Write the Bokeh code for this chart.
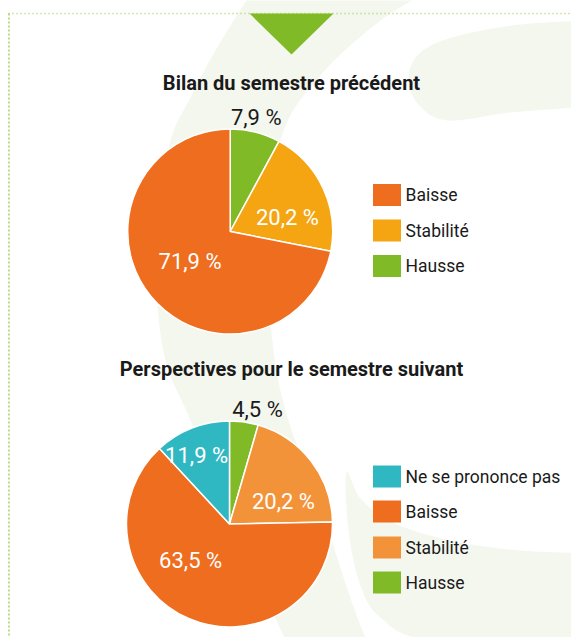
import numpy as np
from bokeh.plotting import figure
from bokeh.models import Range1d, ColumnDataSource
from bokeh.core.properties import value
from bokeh.embed import file_html
from bokeh.resources import INLINE

# ---------------- data ----------------
pie1_title = "Bilan du semestre précédent"
pie1_categories = ["Hausse", "Stabilité", "Baisse"]
pie1_values = [7.9, 20.2, 71.9]
pie1_labels = ["7,9 %", "20,2 %", "71,9 %"]
pie1_colors = ["#80ba27", "#f5a511", "#ee6d1f"]
legend1_order = ["Baisse", "Stabilité", "Hausse"]

pie2_title = "Perspectives pour le semestre suivant"
pie2_categories = ["Hausse", "Stabilité", "Baisse", "Ne se prononce pas"]
pie2_values = [4.5, 20.2, 63.5, 11.9]
pie2_labels = ["4,5 %", "20,2 %", "63,5 %", "11,9 %"]
pie2_colors = ["#80ba27", "#f39339", "#ee6d1f", "#2fb8c2"]
legend2_order = ["Ne se prononce pas", "Baisse", "Stabilité", "Hausse"]

# ---------------- layout / style ----------------
W, H = 571, 637
FONT = "Roboto"
TXT = "#1a1a1a"
BG_SHAPE = "#f4f7ee"


def Y(iy):
    return H - np.asarray(iy, dtype=float)


p = figure(width=W, height=H, x_range=Range1d(0, W), y_range=Range1d(0, H),
           output_backend="svg", toolbar_location=None, min_border=0)
p.axis.visible = False
p.grid.visible = False
p.outline_line_color = None
p.background_fill_color = "white"
p.border_fill_color = "white"


def catmull(pts, n=14):
    pts = np.asarray(pts, dtype=float)
    P = np.vstack([pts[0], pts, pts[-1]])
    out = []
    for i in range(1, len(P) - 2):
        p0, p1, p2, p3 = P[i - 1], P[i], P[i + 1], P[i + 2]
        for t in np.linspace(0, 1, n, endpoint=False):
            t2, t3 = t * t, t * t * t
            out.append(0.5 * ((2 * p1) + (-p0 + p2) * t + (2 * p0 - 5 * p1 + 4 * p2 - p3) * t2
                              + (-p0 + 3 * p1 - 3 * p2 + p3) * t3))
    out.append(P[-2])
    return np.array(out)


# decorative background shapes (image-pixel control points)
band_outer = [(252, -10), (215, 50), (190, 97), (170, 140), (159, 210), (156, 285),
              (165, 360), (190, 420), (230, 520), (290, 650)]
band_inner = [(370, 650), (350, 598), (318, 500), (288, 420), (273, 350), (269, 260),
              (280, 140), (320, 75), (380, 20), (430, -10)]
blob_top = [(590, 20), (520, 24), (455, 36), (420, 52), (408, 77), (418, 104),
            (447, 120), (510, 112), (590, 106)]
blob_bottom = [(600, 553), (520, 550), (450, 540), (392, 522), (360, 498), (346, 472),
               (348, 530), (360, 585), (380, 617), (430, 640), (600, 650)]

for shape in ([band_outer, band_inner], [blob_top], [blob_bottom]):
    pts = np.vstack([catmull(s) for s in shape])
    p.patch(pts[:, 0], Y(pts[:, 1]), fill_color=BG_SHAPE, line_color=None)

# dotted frame and green triangle
p.line([8, W], Y([13, 13]), line_color="#a6d062", line_width=1.5, line_dash="1 3")
p.line([8.5, 8.5], Y([13, H]), line_color="#a6d062", line_width=1.5, line_dash="2 2")
p.patch([249, 333, 291], Y([13, 13, 54]), fill_color="#80ba27", line_color=None)


def draw_pie(cx, cy, R, values, colors, labels, shifts, fracs, lab_colors):
    vals = np.asarray(values, dtype=float)
    cum = np.concatenate([[0], np.cumsum(vals)]) / vals.sum()
    src = ColumnDataSource(dict(start=np.pi / 2 - 2 * np.pi * cum[:-1],
                                end=np.pi / 2 - 2 * np.pi * cum[1:],
                                color=colors))
    p.wedge(x=cx, y=float(Y(cy)), radius=R, start_angle="start", end_angle="end",
            direction="clock", fill_color="color", line_color="white",
            line_width=1.5, source=src)
    mid = (cum[:-1] + cum[1:]) / 2 * 360
    ang = np.radians(mid + np.asarray(shifts))
    d = np.asarray(fracs) * R
    lsrc = ColumnDataSource(dict(x=cx + d * np.sin(ang), y=Y(cy) + d * np.cos(ang),
                                 t=labels, c=lab_colors))
    p.text(x="x", y="y", text="t", text_color="c", source=lsrc,
           text_align="center", text_baseline="middle",
           text_font=value(FONT), text_font_size="22px")


def draw_legend(order, cats, colors, y_centers):
    cmap = dict(zip(cats, colors))
    yc = Y(y_centers)
    p.rect(x=[386.5] * len(order), y=yc, width=28, height=22,
           fill_color=[cmap[c] for c in order], line_color=None)
    p.text(x=[405] * len(order), y=yc, text=order, text_color=TXT,
           text_align="left", text_baseline="middle",
           text_font=value(FONT), text_font_size="17.5px")


def draw_title(t, iy):
    p.text(x=[291], y=[float(Y(iy))], text=[t], text_color=TXT, text_align="center",
           text_baseline="middle", text_font=value(FONT), text_font_size="20px",
           text_font_style="bold")


# ---- chart 1 ----
draw_title(pie1_title, 82)
draw_pie(229.7, 231, 102.5, pie1_values, pie1_colors, pie1_labels,
         shifts=[-1.4, 11.4, 2.5], fracs=[1.145, 0.575, 0.49],
         lab_colors=[TXT, "white", "white"])
draw_legend(legend1_order, pie1_categories, pie1_colors, [194.5, 230, 265.5])

# ---- chart 2 ----
draw_title(pie2_title, 368)
draw_pie(229, 523.5, 103, pie2_values, pie2_colors, pie2_labels,
         shifts=[5.7, 15.2, 24.2, -4.2], fracs=[1.14, 0.566, 0.515, 0.74],
         lab_colors=[TXT, "white", "white", "white"])
draw_legend(legend2_order, pie2_categories, pie2_colors, [476, 511, 547, 582])

open("out.html", "w").write(file_html(p, INLINE))
